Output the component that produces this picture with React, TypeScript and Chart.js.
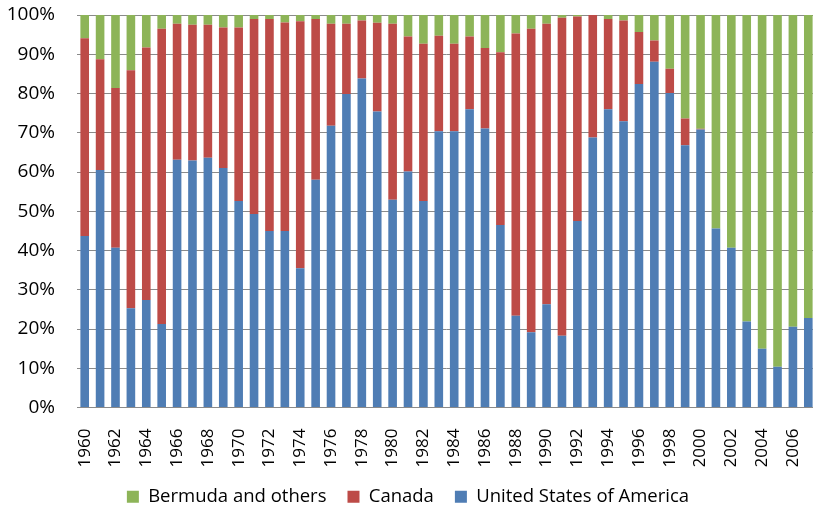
import React, { useEffect, useRef } from "react";
import { Chart, registerables } from "chart.js";

Chart.register(...registerables);

const years: string[] = [];
for (let y = 1960; y <= 2007; y++) years.push(String(y));

const usa = [
  43.7, 60.5, 40.7, 25.3, 27.4, 21.3, 63.1, 62.9, 63.6, 61.0,
  52.6, 49.3, 45.0, 45.0, 35.5, 58.0, 71.8, 79.9, 83.8, 75.4,
  52.9, 60.1, 52.6, 70.4, 70.4, 76.0, 71.1, 46.5, 23.4, 19.2,
  26.3, 18.3, 47.5, 68.8, 76.0, 72.9, 82.4, 88.1, 80.1, 66.8,
  70.8, 45.6, 40.7, 21.9, 15.0, 10.4, 20.6, 22.8,
];

const canada = [
  50.4, 28.2, 40.7, 60.6, 64.3, 75.2, 34.7, 34.6, 33.9, 35.8,
  44.2, 49.7, 54.0, 53.1, 62.9, 41.0, 26.0, 17.9, 14.8, 22.6,
  44.9, 34.4, 40.1, 24.3, 22.3, 18.5, 20.5, 44.0, 71.9, 77.3,
  71.5, 81.0, 52.1, 31.2, 23.0, 25.7, 13.3, 5.4, 6.2, 6.8,
  0.2, 0, 0, 0, 0, 0, 0, 0,
];

const bermuda = [
  5.9, 11.3, 18.6, 14.1, 8.3, 3.5, 2.2, 2.5, 2.5, 3.2,
  3.2, 1.0, 1.0, 1.9, 1.6, 1.0, 2.2, 2.2, 1.4, 2.0,
  2.2, 5.5, 7.3, 5.3, 7.3, 5.5, 8.4, 9.5, 4.7, 3.5,
  2.2, 0.7, 0.4, 0.0, 1.0, 1.4, 4.3, 6.5, 13.7, 26.4,
  29.0, 54.4, 59.3, 78.1, 85.0, 89.6, 79.4, 77.2,
];

const FONT = "'Open Sans', sans-serif";

export default function App() {
  const ref = useRef<HTMLCanvasElement>(null);
  useEffect(() => {
    if (!ref.current) return;
    const chart = new Chart(ref.current, {
      type: "bar",
      data: {
        labels: years,
        datasets: [
          { label: "United States of America", data: usa, backgroundColor: "#4F7DB4" },
          { label: "Canada", data: canada, backgroundColor: "#BD4B47" },
          { label: "Bermuda and others", data: bermuda, backgroundColor: "#8DB458" },
        ],
      },
      options: {
        responsive: false,
        animation: false,
        devicePixelRatio: 1,
        datasets: { bar: { barPercentage: 0.56, categoryPercentage: 1 } },
        layout: { padding: { left: 0, top: 15, right: 4, bottom: 0 } },
        plugins: {
          tooltip: { enabled: false },
          legend: {
            position: "bottom",
            reverse: true,
            labels: {
              boxWidth: 12,
              boxHeight: 12,
              padding: 21,
              color: "#000",
              font: { family: FONT, size: 18.5 },
            },
          },
        },
        scales: {
          x: {
            stacked: true,
            grid: { display: false, drawTicks: false },
            border: { display: true, color: "#8a8a8a", width: 1 },
            afterFit: (s: any) => {
              s.height = 59;
              s.paddingLeft = 0;
              s.paddingRight = 0;
            },
            ticks: {
              autoSkip: false,
              maxRotation: 90,
              minRotation: 90,
              padding: 21,
              color: "#000",
              font: { family: FONT, size: 17 },
              callback: (_v: any, i: number) => (i % 2 === 0 ? years[i] : ""),
            },
          },
          y: {
            stacked: true,
            min: 0,
            max: 100,
            grid: { color: "#8a8a8a", drawTicks: false },
            border: { display: false },
            afterFit: (s: any) => {
              s.width = 77;
              s.paddingTop = 0;
              s.paddingBottom = 0;
            },
            ticks: {
              stepSize: 10,
              padding: 22,
              color: "#000",
              font: { family: FONT, size: 19 },
              callback: (v: any) => v + "%",
            },
          },
        },
      },
    });
    return () => chart.destroy();
  }, []);
  return (
    <div style={{ position: "absolute", left: 0, top: 0, width: 813, height: 505, overflow: "hidden" }}>
      <canvas ref={ref} width={820} height={516} style={{ display: "block" }} />
    </div>
  );
}
